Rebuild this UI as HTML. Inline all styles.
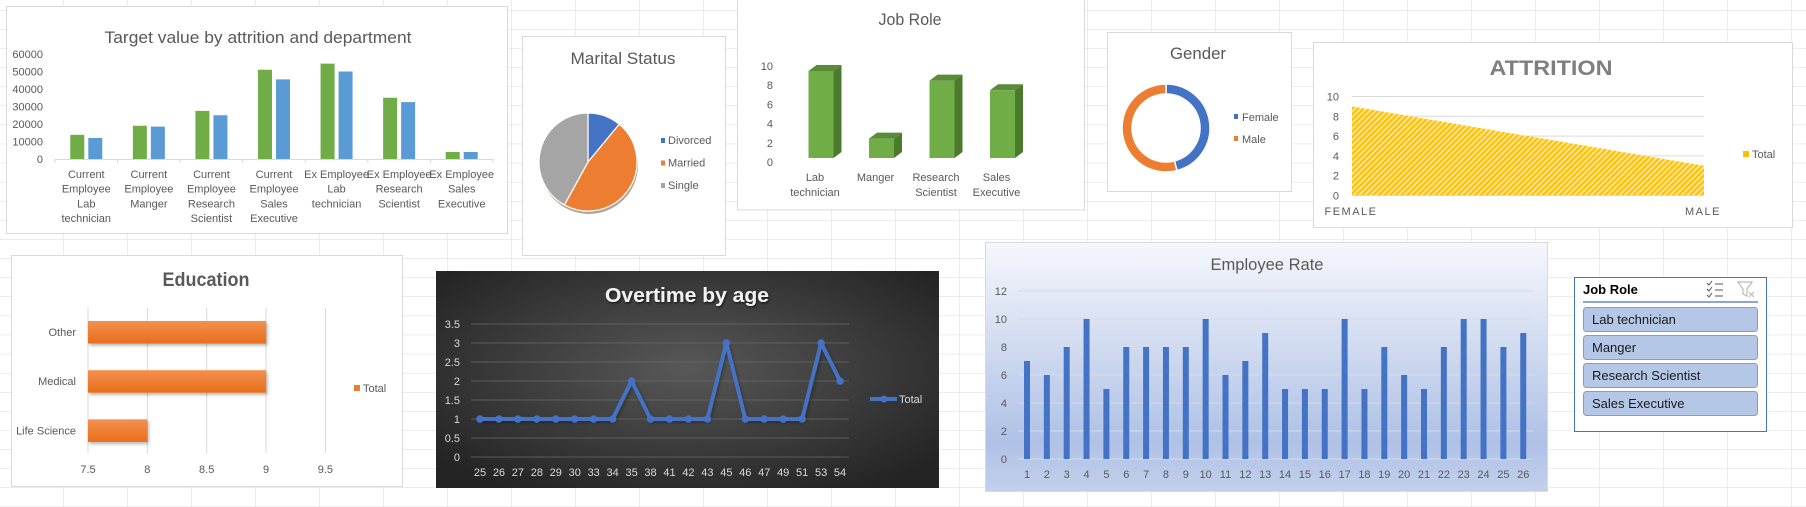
<!DOCTYPE html>
<html><head><meta charset="utf-8"><title>HR Dashboard</title>
<style>
html,body{margin:0;padding:0;background:#fff;overflow:hidden}
svg{display:block;font-family:"Liberation Sans",sans-serif}
.t{fill:#595959;font-size:11px}
.title{fill:#595959}
</style></head>
<body>
<svg id="dash" width="1806" height="507" viewBox="0 0 1806 507" xmlns="http://www.w3.org/2000/svg">
<defs>
<pattern id="cells" x="63" y="10" width="64" height="19.1" patternUnits="userSpaceOnUse">
<path d="M0 0V19.1M0 0H64" stroke="#dadada" stroke-width="1" fill="none"/>
</pattern>
<pattern id="hatch" width="4" height="4" patternUnits="userSpaceOnUse" patternTransform="rotate(45)">
<rect width="4" height="4" fill="#FFE38F"/>
<rect width="2" height="4" fill="#FFC000"/>
</pattern>
<radialGradient id="darkbg" cx="50%" cy="45%" r="65%">
<stop offset="0" stop-color="#585858"/><stop offset="1" stop-color="#242424"/>
</radialGradient>
<linearGradient id="bluebg" x1="0" y1="0" x2="0" y2="1">
<stop offset="0" stop-color="#f5f7fc"/><stop offset="0.8" stop-color="#afc1e6"/><stop offset="1" stop-color="#c3d0ec"/>
</linearGradient>
<linearGradient id="orangebar" x1="0" y1="0" x2="0" y2="1">
<stop offset="0" stop-color="#F4904F"/><stop offset="1" stop-color="#E86E1A"/>
</linearGradient>
<filter id="sh" x="-10%" y="-20%" width="130%" height="160%"><feDropShadow dx="1.5" dy="2" stdDeviation="1.5" flood-color="#000" flood-opacity="0.3"/></filter>
<filter id="tsh"><feDropShadow dx="1" dy="1.5" stdDeviation="1" flood-color="#000" flood-opacity="0.6"/></filter>
</defs>
<rect x="0" y="0" width="1806" height="507" fill="url(#cells)"/>

<!-- chart boxes -->
<rect x="6.5" y="6.5" width="501" height="227" fill="#fff" stroke="#d9d9d9"/>
<text class="title" x="258" y="43" font-size="17" text-anchor="middle" textLength="307" lengthAdjust="spacingAndGlyphs">Target value by attrition and department</text>

<rect x="737.5" y="-2" width="347" height="212" fill="#fff" stroke="#d9d9d9"/>
<text class="title" x="910" y="25" font-size="17" text-anchor="middle" textLength="63" lengthAdjust="spacingAndGlyphs">Job Role</text>

<rect x="522.5" y="36.5" width="203" height="219" fill="#fff" stroke="#d9d9d9"/>
<text class="title" x="623" y="64" font-size="17" text-anchor="middle" textLength="105" lengthAdjust="spacingAndGlyphs">Marital Status</text>

<rect x="1107.5" y="32.5" width="184" height="159" fill="#fff" stroke="#d9d9d9"/>
<text class="title" x="1198" y="59" font-size="17" text-anchor="middle" textLength="56" lengthAdjust="spacingAndGlyphs">Gender</text>

<rect x="1313.5" y="42.5" width="479" height="185" fill="#fff" stroke="#d9d9d9"/>
<text x="1551" y="75" font-size="21" font-weight="bold" fill="#7f7f7f" text-anchor="middle" textLength="123" lengthAdjust="spacingAndGlyphs">ATTRITION</text>

<rect x="11.5" y="255.5" width="391" height="231" fill="#fff" stroke="#d9d9d9"/>
<text class="title" x="206" y="286" font-size="19" font-weight="bold" text-anchor="middle" textLength="87" lengthAdjust="spacingAndGlyphs">Education</text>

<rect x="436" y="271" width="503" height="217" fill="url(#darkbg)"/>
<text x="687" y="302" font-size="20" font-weight="bold" fill="#f2f2f2" filter="url(#tsh)" text-anchor="middle" textLength="164" lengthAdjust="spacingAndGlyphs">Overtime by age</text>

<rect x="985.5" y="242.5" width="562" height="249" fill="url(#bluebg)" stroke="#d9d9d9"/>
<text class="title" x="1267" y="270" font-size="17" text-anchor="middle" textLength="113" lengthAdjust="spacingAndGlyphs">Employee Rate</text>

<!-- slicer -->
<g>
<rect x="1574.5" y="277.5" width="192" height="154" fill="#fff" stroke="#4472C4"/>
<text x="1583" y="294" font-size="13" font-weight="bold" fill="#000">Job Role</text>
<line x1="1583" y1="302" x2="1758" y2="302" stroke="#4472C4" stroke-width="1.2"/>
<g stroke="#555" stroke-width="1" fill="none">
<path d="M1707 283l2 2 3-4M1707 289l2 2 3-4M1707 295l2 2 3-4"/><path d="M1715 284h8M1715 290h8M1715 296h8"/>
</g>
<g fill="none" stroke="#bbb" stroke-width="1.2">
<path d="M1738 282h14l-5 7v7l-4-2v-5z"/><path d="M1749 292l5 5M1754 292l-5 5"/>
</g>
</g>
<g id="slicerItems"></g>

<g id="marks"></g>

<script>
// ---------- DATA ----------
const targetCats = [["Current","Employee","Lab","technician"],["Current","Employee","Manger"],["Current","Employee","Research","Scientist"],["Current","Employee","Sales","Executive"],["Ex Employee","Lab","technician"],["Ex Employee","Research","Scientist"],["Ex Employee","Sales","Executive"]];
const targetGreen = [13800,19000,27500,51000,54500,35000,4000];
const targetBlue = [12000,18500,25000,45500,50000,32500,4000];
const targetTicks = [0,10000,20000,30000,40000,50000,60000];

const maritalLabels = ["Divorced","Married","Single"];
const maritalValues = [11,47,42];

const jobRoleLabels = [["Lab","technician"],["Manger"],["Research","Scientist"],["Sales","Executive"]];
const jobRoleValues = [9,2,8,7];
const jobRoleTicks = [0,2,4,6,8,10];

const genderLabels = ["Female","Male"];
const genderValues = [46,54];

const attrCats = ["FEMALE","MALE"];
const attrValues = [9,3];
const attrTicks = [0,2,4,6,8,10];

const eduCats = ["Other","Medical","Life Science"];
const eduValues = [9,9,8];
const eduTicks = [7.5,8,8.5,9,9.5];

const otAges = ["25","26","27","28","29","30","33","34","35","38","41","42","43","45","46","47","49","51","53","54"];
const otValues = [1,1,1,1,1,1,1,1,2,1,1,1,1,3,1,1,1,1,3,2];
const otTicks = [0,0.5,1,1.5,2,2.5,3,3.5];

const empCats = ["1","2","3","4","5","6","7","8","9","10","11","12","13","14","15","16","17","18","19","20","21","22","23","24","25","26"];
const empValues = [7,6,8,10,5,8,8,8,8,10,6,7,9,5,5,5,10,5,8,6,5,8,10,10,8,9];
const empTicks = [0,2,4,6,8,10,12];

const slicerItems = ["Lab technician","Manger","Research Scientist","Sales Executive"];

// ---------- HELPERS ----------
const NS = "http://www.w3.org/2000/svg";
const root = document.getElementById('marks');
function mk(tag, attrs, parent){
  const e = document.createElementNS(NS, tag);
  for (const k in attrs) e.setAttribute(k, attrs[k]);
  (parent || root).appendChild(e);
  return e;
}
function txt(s, attrs){ const e = mk('text', attrs); e.textContent = s; return e; }
function arcPath(cx, cy, r, a0, a1, ri){
  const p = (a, rr) => [cx + rr*Math.sin(a), cy - rr*Math.cos(a)];
  const large = (a1 - a0) > Math.PI ? 1 : 0;
  const [x0,y0] = p(a0,r), [x1,y1] = p(a1,r);
  if (!ri) return `M${cx},${cy}L${x0},${y0}A${r},${r} 0 ${large} 1 ${x1},${y1}Z`;
  const [x2,y2] = p(a1,ri), [x3,y3] = p(a0,ri);
  return `M${x0},${y0}A${r},${r} 0 ${large} 1 ${x1},${y1}L${x2},${y2}A${ri},${ri} 0 ${large} 0 ${x3},${y3}Z`;
}

// ---------- TARGET CHART ----------
(function(){
  const y = v => 159 - v/60000*105;
  const bandW = (493-55)/targetCats.length;
  const cx = i => 55 + bandW*(i+0.5);
  targetTicks.forEach(t => {
    const e = txt(String(t), {x:43, y:y(t)+4, class:'t', 'text-anchor':'end'});
    
    
  });
  const ax = mk('line', {x1:55, y1:159.5, x2:493, y2:159.5, stroke:'#d9d9d9'});
  
  
  for (let i=0;i<=targetCats.length;i++){
    const tk = mk('line', {x1:55+bandW*i, y1:159, x2:55+bandW*i, y2:163, stroke:'#d9d9d9'});
    
    
  }
  targetCats.forEach((lines,i) => {
    const g = mk('rect', {x:cx(i)-16, y:y(targetGreen[i]), width:14, height:159-y(targetGreen[i]), fill:'#70AD47'});
    
    
    const b = mk('rect', {x:cx(i)+2, y:y(targetBlue[i]), width:14, height:159-y(targetBlue[i]), fill:'#5B9BD5'});
    
    
    lines.forEach((ln,j) => {
      const e = txt(ln, {x:cx(i), y:178+j*14.7, class:'t', 'font-size':'11.5', 'text-anchor':'middle'});
      
      
    });
  });
})();

// ---------- MARITAL PIE ----------
(function(){
  const cx=588, cy=162, r=49;
  const total = maritalValues.reduce((a,b)=>a+b,0);
  const colors = ['#4472C4','#ED7D31','#A5A5A5'];
  const shadow = mk('ellipse', {cx:cx+1, cy:cy+3, rx:r, ry:r, fill:'#7a5a40', opacity:'0.55'});
  
  
  let a = 0;
  maritalValues.forEach((v,i) => {
    const a1 = a + v/total*2*Math.PI;
    const p = mk('path', {d:arcPath(cx,cy,r,a,a1), fill:colors[i], stroke:'#fff', 'stroke-width':'1.2'});
    
    
    a = a1;
    const sq = mk('rect', {x:661, y:138+i*22.5, width:4, height:5, fill:colors[i]});
    
    
    const t = txt(maritalLabels[i], {x:668, y:144+i*22.5, class:'t'});
    
    
  });
})();

// ---------- JOB ROLE 3D BARS ----------
(function(){
  const yl = v => 162 - v*9.6;
  const yb = v => 158 - v*9.67;
  const cx = i => 821 + i*60.5;
  jobRoleTicks.forEach(t => {
    const e = txt(String(t), {x:773, y:yl(t)+4, class:'t', 'text-anchor':'end'});
    
    
  });
  jobRoleValues.forEach((v,i) => {
    const c = cx(i), top = yb(v), L = c-12.5, R = c+12.5;
    const f = mk('rect', {x:L, y:top, width:25, height:158-top, fill:'#70AD47'});
    
    
    const s = mk('polygon', {points:`${R},${top} ${R+8},${top-6} ${R+8},${152} ${R},${158}`, fill:'#4B7A2C'});
    
    
    const tp = mk('polygon', {points:`${L},${top} ${L+8},${top-6} ${R+8},${top-6} ${R},${top}`, fill:'#5A8C38'});
    
    
    jobRoleLabels[i].forEach((ln,j) => {
      const e = txt(ln, {x:c-6, y:181+j*15, class:'t', 'text-anchor':'middle'});
      
      
    });
  });
})();

// ---------- GENDER DONUT ----------
(function(){
  const cx=1166, cy=128, r=44, ri=34;
  const total = genderValues.reduce((a,b)=>a+b,0);
  const colors = ['#4472C4','#ED7D31'];
  let a = 0;
  genderValues.forEach((v,i) => {
    const a1 = a + v/total*2*Math.PI;
    const p = mk('path', {d:arcPath(cx,cy,r,a,a1,ri), fill:colors[i], stroke:'#fff', 'stroke-width':'1.5'});
    
    
    a = a1;
    const sq = mk('rect', {x:1234, y:114+i*22, width:4, height:5, fill:colors[i]});
    
    
    const t = txt(genderLabels[i], {x:1242, y:121+i*22, class:'t'});
    
    
  });
})();

// ---------- ATTRITION AREA ----------
(function(){
  const y = v => 195.5 - v*9.9;
  const x = i => 1352 + i*(1704-1352)/(attrCats.length-1);
  attrTicks.forEach(t => {
    if (t>0){
      const g = mk('line', {x1:1352, y1:y(t), x2:1704, y2:y(t), stroke:'#d9d9d9'});
      
      
    }
    const e = txt(String(t), {x:1339, y:y(t)+4, class:'t', 'text-anchor':'end'});
    
    
  });
  let d = `M${x(0)},${y(0)}`;
  attrValues.forEach((v,i) => { d += `L${x(i)},${y(v)}`; });
  d += `L${x(attrValues.length-1)},${y(0)}Z`;
  const ar = mk('path', {d:d, fill:'url(#hatch)'});
  
  
  const base = mk('line', {x1:1352, y1:y(0), x2:1704, y2:y(0), stroke:'#d9d9d9'});
  
  
  attrCats.forEach((c,i) => {
    const e = txt(c, {x:x(i)-1, y:215, class:'t', 'text-anchor':'middle', 'letter-spacing':'1.5'});
    
    
  });
  const sq = mk('rect', {x:1743, y:151, width:6, height:6, fill:'#FFC000'});
  
  
  const t = txt('Total', {x:1752, y:158, class:'t'});
  
  
})();

// ---------- EDUCATION BARS ----------
(function(){
  const x = v => 88 + (v-7.5)*118.7;
  const cy = i => 332 + i*49.2;
  eduTicks.forEach(t => {
    const g = mk('line', {x1:x(t), y1:308, x2:x(t), y2:453, stroke:'#d9d9d9'});
    
    
    const e = txt(String(t), {x:x(t), y:473, class:'t', 'text-anchor':'middle'});
    
    
  });
  eduCats.forEach((c,i) => {
    const b = mk('rect', {x:x(7.5), y:cy(i)-11, width:x(eduValues[i])-x(7.5), height:22.5, fill:'url(#orangebar)', filter:'url(#sh)'});
    
    
    const e = txt(c, {x:76, y:cy(i)+4, class:'t', 'text-anchor':'end'});
    
    
  });
  const sq = mk('rect', {x:354, y:385, width:6, height:6, fill:'#ED7D31'});
  
  
  const t = txt('Total', {x:363, y:392, class:'t'});
  
  
})();

// ---------- OVERTIME LINE ----------
(function(){
  const x = i => 480 + i*18.95;
  const y = v => 457 - v*38;
  otTicks.forEach(t => {
    const g = mk('line', {x1:471, y1:y(t), x2:849, y2:y(t), stroke:'#6a6a6a', 'stroke-width':'0.8'});
    
    
    const e = txt(String(t), {x:460, y:y(t)+4, 'font-size':'11', fill:'#d9d9d9', 'text-anchor':'end'});
    
    
  });
  const pts = otValues.map((v,i) => `${x(i)},${y(v)}`).join(' ');
  const ln = mk('polyline', {points:pts, fill:'none', stroke:'#4472C4', 'stroke-width':'4', 'stroke-linejoin':'round', filter:'url(#sh)'});
  
  
  otValues.forEach((v,i) => {
    const c = mk('circle', {cx:x(i), cy:y(v), r:3.8, fill:'#4472C4'});
    
    
    const e = txt(otAges[i], {x:x(i), y:476, 'font-size':'11', fill:'#d9d9d9', 'text-anchor':'middle'});
    
    
  });
  const lg = mk('line', {x1:870, y1:399, x2:897, y2:399, stroke:'#4472C4', 'stroke-width':'4'});
  
  
  const lc = mk('circle', {cx:884, cy:399, r:3.5, fill:'#4472C4'});
  
  
  const t = txt('Total', {x:899, y:403, 'font-size':'11', fill:'#d9d9d9'});
  
  
})();

// ---------- EMPLOYEE RATE BARS ----------
(function(){
  const x = i => 1027 + i*19.85;
  const y = v => 459 - v*14;
  empTicks.forEach(t => {
    const g = mk('line', {x1:1018, y1:y(t), x2:1533, y2:y(t), stroke:'#d6dbe6'});
    
    
    const e = txt(String(t), {x:1007, y:y(t)+4, class:'t', 'text-anchor':'end'});
    
    
  });
  empValues.forEach((v,i) => {
    const b = mk('rect', {x:x(i)-3, y:y(v), width:6, height:459-y(v), fill:'#4472C4'});
    
    
    const e = txt(empCats[i], {x:x(i), y:478, class:'t', 'text-anchor':'middle'});
    
    
  });
})();

// ---------- SLICER ITEMS ----------
(function(){
  const sg = document.getElementById('slicerItems');
  slicerItems.forEach((s,i) => {
    const r = mk('rect', {x:1583.5, y:307.5+i*28, width:174, height:24, rx:3, fill:'#B4C7E7', stroke:'#9a9a9a'}, sg);
    
    
    const t = mk('text', {x:1592, y:324+i*28, 'font-size':'13', fill:'#1a1a1a'}, sg);
    t.textContent = s;
    
    
  });
})();
</script>
</svg>
</body></html>
